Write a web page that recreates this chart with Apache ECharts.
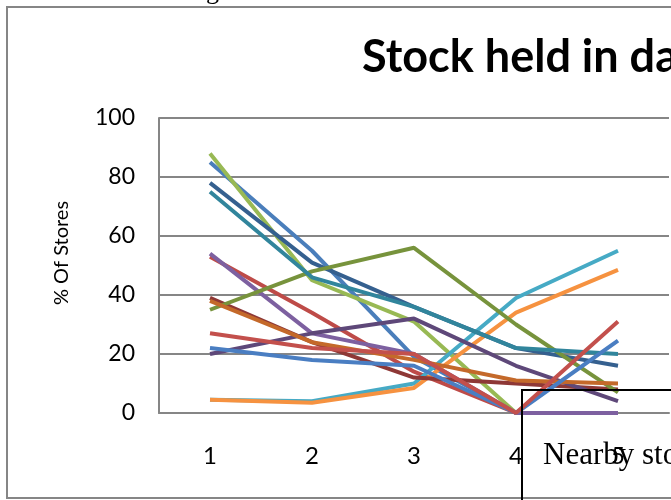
<!DOCTYPE html>
<html>
<head>
<meta charset="utf-8">
<script src="https://cdn.jsdelivr.net/npm/echarts@6/dist/echarts.min.js"></script>
<style>
  html, body { margin: 0; padding: 0; background: #fff; }
  #main { width: 671px; height: 500px; }
</style>
</head>
<body>
<div id="main"></div>
<script>
// categories on the x axis
var categories = ['1', '2', '3', '4', '5']

// % of stores, one list per line
var blueA = [85, 55, 19, 0, 0]
var redA = [53, 34, 14, 0, 0]
var greenA = [88, 45, 31, 0, 0]
var purpleA = [54, 27, 20, 0, 0]
var aquaA = [4.5, 4, 10, 39, 55]
var orangeA = [4.5, 3.5, 8.5, 34, 48.5]
var blueB = [78, 51, 36, 22, 16]
var redB = [39, 24, 12, 10, 8]
var greenB = [35, 48, 56, 30, 7]
var purpleB = [20, 27, 32, 16, 4]
var aquaB = [75, 46, 36, 22, 20]
var orangeB = [38, 24, 18, 11, 10]
var blueC = [22, 18, 16, 0, 24.5]
var redC = [27, 22, 20, 0, 31]

var lines = [
  { name: 'S1', data: blueA, color: '#4A7EBB' },
  { name: 'S2', data: redA, color: '#BE4B48' },
  { name: 'S3', data: greenA, color: '#98B954' },
  { name: 'S4', data: purpleA, color: '#7D60A0' },
  { name: 'S5', data: aquaA, color: '#46AAC5' },
  { name: 'S6', data: orangeA, color: '#F69240' },
  { name: 'S7', data: blueB, color: '#35608F' },
  { name: 'S8', data: redB, color: '#8E3836' },
  { name: 'S9', data: greenB, color: '#77933C' },
  { name: 'S10', data: purpleB, color: '#5E4879' },
  { name: 'S11', data: aquaB, color: '#31859C' },
  { name: 'S12', data: orangeB, color: '#C4692A' },
  { name: 'S13', data: blueC, color: '#4A7EC2' },
  { name: 'S14', data: redC, color: '#C3504C' }
]

var axisGrey = '#868686'

function buildSeries() {
  var out = []
  for (var i = 0; i < lines.length; i++) {
    out.push({
      name: lines[i].name,
      type: 'line',
      data: lines[i].data,
      symbol: 'none',
      smooth: false,
      itemStyle: { color: lines[i].color },
      lineStyle: { color: lines[i].color, width: 4 }
    })
  }
  return out
}

var chart = echarts.init(document.getElementById('main'), null, { renderer: 'canvas' })

var option = {
  animation: false,
  backgroundColor: '#fff',
  title: {
    text: 'Stock held in days',
    left: 362,
    top: 35,
    padding: 0,
    textStyle: {
      fontFamily: 'Lato',
      fontWeight: 'bold',
      fontSize: 45,
      color: '#000'
    }
  },
  grid: {
    left: 159,
    right: 2,
    top: 118,
    bottom: 87
  },
  xAxis: {
    type: 'category',
    data: categories,
    boundaryGap: true,
    axisLine: { show: true, lineStyle: { color: axisGrey, width: 2 } },
    axisTick: { show: false },
    axisLabel: { margin: 31, fontSize: 24, fontFamily: 'Lato', color: '#000' },
    splitLine: { show: false }
  },
  yAxis: {
    type: 'value',
    min: 0,
    max: 100,
    interval: 20,
    axisLine: { show: true, lineStyle: { color: axisGrey, width: 2 } },
    axisTick: { show: false },
    axisLabel: { margin: 24, fontSize: 23, fontFamily: 'Lato', color: '#000' },
    splitLine: { show: true, lineStyle: { color: axisGrey, width: 2 } }
  },
  series: buildSeries(),
  graphic: [
    {
      // axis title, sits a bit above the middle of the plot
      type: 'text',
      x: 62,
      y: 253,
      rotation: Math.PI / 2,
      style: { text: '% Of Stores', font: '20px Lato', fill: '#000', align: 'center', verticalAlign: 'middle' },
      z: 100
    },
    {
      // outer chart border, runs off the right side
      type: 'rect',
      shape: { x: 7, y: 7, width: 720, height: 491 },
      style: { fill: 'none', stroke: axisGrey, lineWidth: 2 },
      z: 100
    },
    {
      // bit of caption text cut off at the top
      type: 'text',
      x: 206,
      y: 5,
      style: { text: 'g', font: '26px "Liberation Serif"', fill: '#000', verticalAlign: 'bottom' },
      z: 100
    },
    {
      // text box laid over the chart
      type: 'rect',
      shape: { x: 522, y: 390, width: 300, height: 200 },
      style: { fill: 'none', stroke: '#000', lineWidth: 2 },
      z: 100
    },
    {
      type: 'text',
      x: 543,
      y: 456,
      style: { text: 'Nearby stores', font: '31px "Liberation Serif"', fill: '#000', verticalAlign: 'middle' },
      z: 100
    }
  ]
}

chart.setOption(option)
</script>
</body>
</html>
